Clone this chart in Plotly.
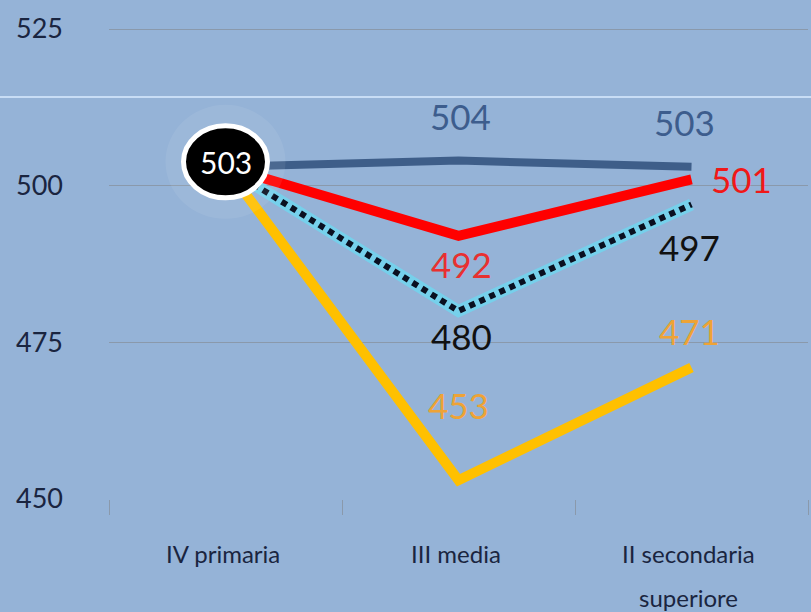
import plotly.graph_objects as go

categories = ["IV primaria", "III media", "II secondaria<br>superiore"]
x_idx = [0, 1, 2]
blue_vals = [503, 504, 503]
red_vals = [503, 492, 501]
dotted_vals = [503, 480, 497]
yellow_vals = [503, 453, 471]
y_ticks = [450, 475, 500, 525]
start_value = 503

BG = "#95b3d7"
GRID = "#8a99ab"
FONT = "Lato"

fig = go.Figure()

# yellow
fig.add_trace(go.Scatter(x=x_idx, y=yellow_vals, mode="lines",
                         line=dict(color="#ffc000", width=10), hoverinfo="skip"))
# dotted with cyan glow
fig.add_trace(go.Scatter(x=x_idx, y=dotted_vals, mode="lines",
                         line=dict(color="rgba(110,215,240,0.8)", width=12), hoverinfo="skip"))
fig.add_trace(go.Scatter(x=x_idx, y=dotted_vals, mode="lines",
                         line=dict(color="#0a1020", width=6, dash="6px,5px"), hoverinfo="skip"))
# red
fig.add_trace(go.Scatter(x=x_idx, y=red_vals, mode="lines",
                         line=dict(color="#ff0000", width=10), hoverinfo="skip"))
# blue
fig.add_trace(go.Scatter(x=x_idx, y=blue_vals, mode="lines",
                         line=dict(color="#3e5e89", width=8), hoverinfo="skip"))

shapes = []
# light separator line
shapes.append(dict(type="line", xref="paper", yref="paper", x0=-0.2, x1=1.01,
                   y0=1 - 97 / 499, y1=1 - 97 / 499,
                   line=dict(color="rgba(205,225,248,0.9)", width=2), layer="below"))
# halo
shapes.append(dict(type="circle", xref="x", yref="y", xsizemode="pixel", ysizemode="pixel",
                   xanchor=0, yanchor=start_value, x0=-60, x1=60, y0=-52, y1=62,
                   fillcolor="rgba(255,255,255,0.07)", line=dict(width=0), layer="above"))
# circle label marker
shapes.append(dict(type="circle", xref="x", yref="y", xsizemode="pixel", ysizemode="pixel",
                   xanchor=0, yanchor=start_value, x0=-42, x1=42, y0=-31, y1=41,
                   fillcolor="#000000", line=dict(color="#ffffff", width=5), layer="above"))

annotations = []
def lab(x, y, text, color, dx, dy, size=35):
    annotations.append(dict(x=x, y=y, xref="x", yref="y", text=text, showarrow=False,
                            xshift=dx, yshift=dy, font=dict(family=FONT, size=size, color=color)))

lab(0, start_value, str(start_value), "#ffffff", 0, 5, size=30)
lab(1, blue_vals[1], str(blue_vals[1]), "#3d5d8d", 2, 45)
lab(2, blue_vals[2], str(blue_vals[2]), "#3d5d8d", -7, 45)
lab(2, red_vals[2], str(red_vals[2]), "#f01818", 50, 0)
lab(1, red_vals[1], str(red_vals[1]), "#e83030", 3, -28)
lab(1, dotted_vals[1], str(dotted_vals[1]), "#111111", 3, -25)
lab(2, dotted_vals[2], str(dotted_vals[2]), "#111111", -2, -43)
lab(1, yellow_vals[1], str(yellow_vals[1]), "#eea336", 0, 75)
lab(2, yellow_vals[2], str(yellow_vals[2]), "#eea336", -2, 36)

for i, cat in enumerate(categories):
    for j, line in enumerate(cat.split("<br>")):
        annotations.append(dict(x=x_idx[i], y=0, xref="x", yref="paper", text=line,
                                showarrow=False, yanchor="middle", xshift=-3,
                                yshift=-54 - 44 * j,
                                font=dict(family=FONT, size=24, color="#1a2540")))

fig.update_layout(
    width=811, height=612,
    margin=dict(l=109, r=3, t=0, b=113),
    paper_bgcolor=BG, plot_bgcolor=BG,
    showlegend=False,
    shapes=shapes, annotations=annotations,
    xaxis=dict(range=[-0.5, 2.5], tickvals=[-0.5, 0.5, 1.5, 2.5], ticktext=["", "", "", ""],
               ticks="outside", ticklen=15, tickcolor=GRID, tickwidth=1,
               showgrid=False, zeroline=False, showline=False, fixedrange=True),
    yaxis=dict(range=[450, 525 + 29 / (470 / 75)], tickvals=y_ticks,
               showgrid=True, gridcolor=GRID, gridwidth=1, zeroline=False, showline=False,
               ticks="", ticklabelstandoff=45,
               tickfont=dict(family=FONT, size=27, color="#1a2540")),
)

fig.write_html("out.html", config={"displayModeBar": False},
               post_script="document.body.style.margin='0';document.body.style.background='" + BG + "';")
